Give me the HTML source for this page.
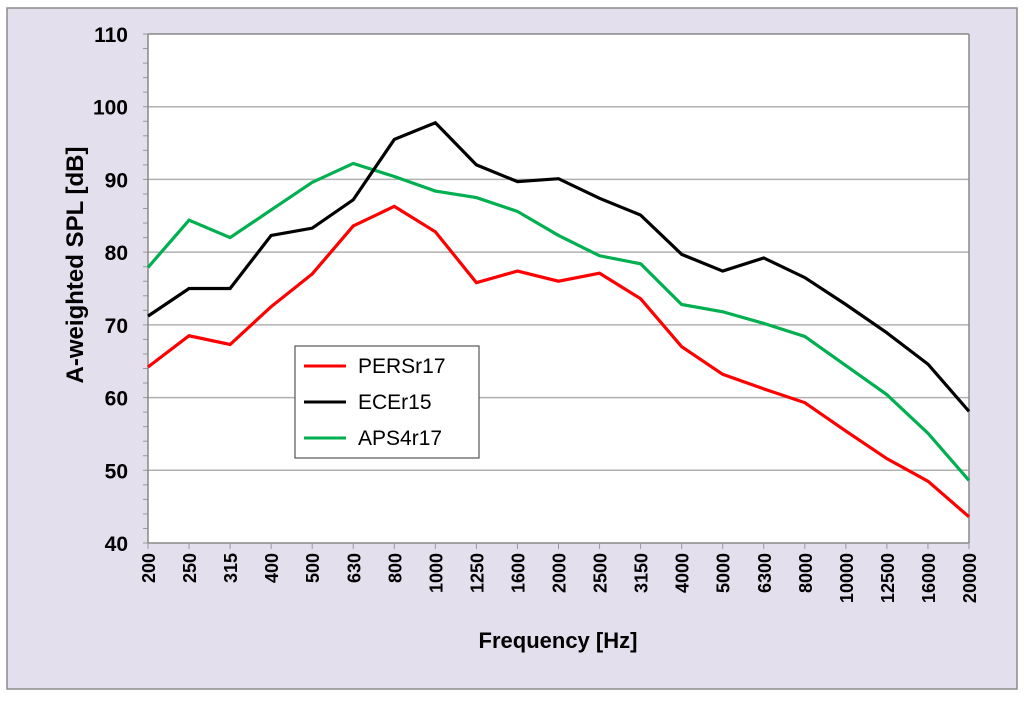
<!DOCTYPE html>
<html><head><meta charset="utf-8"><style>
body{margin:0;background:#fff;font-family:"Liberation Sans",sans-serif;}
</style></head><body>
<svg id="chart" width="1024" height="697" xmlns="http://www.w3.org/2000/svg" font-family="Liberation Sans, sans-serif">
<rect x="7" y="8" width="1010" height="681" fill="#e4dfec" stroke="#8c8c8c" stroke-width="1.5"/>
<rect x="148" y="34" width="821" height="509" fill="#fff"/>
<g id="grid"></g><g id="axes"></g><g id="series"></g>
<text transform="translate(83,265) rotate(-90)" text-anchor="middle" font-size="24" font-weight="bold">A-weighted SPL [dB]</text>
<text x="558" y="648" text-anchor="middle" font-size="22" font-weight="bold">Frequency [Hz]</text>
<g>
<rect x="295" y="346" width="184" height="112" fill="#fff" stroke="#555" stroke-width="1.2"/>
<line x1="304" y1="366" x2="346" y2="366" stroke="#ff0000" stroke-width="3"/>
<text x="358" y="373" font-size="21">PERSr17</text>
<line x1="304" y1="402" x2="346" y2="402" stroke="#000" stroke-width="3"/>
<text x="358" y="409" font-size="21">ECEr15</text>
<line x1="304" y1="438" x2="346" y2="438" stroke="#00b050" stroke-width="3"/>
<text x="358" y="445" font-size="21">APS4r17</text>
</g>
</svg>
<script>
const categories=["200","250","315","400","500","630","800","1000","1250","1600","2000","2500","3150","4000","5000","6300","8000","10000","12500","16000","20000"];
const persValues=[64.2,68.5,67.3,72.5,77,83.6,86.3,82.8,75.8,77.4,76,77.1,73.6,67,63.2,61.2,59.3,55.4,51.6,48.5,43.6];
const eceValues=[71.2,75,75,82.3,83.3,87.2,95.5,97.8,92,89.7,90.1,87.4,85.1,79.7,77.4,79.2,76.5,72.8,68.9,64.6,58.1];
const apsValues=[77.9,84.4,82,85.8,89.6,92.2,90.4,88.4,87.5,85.6,82.3,79.5,78.4,72.8,71.8,70.2,68.4,64.4,60.4,55.1,48.6];
const yTicks=[40,50,60,70,80,90,100,110];
const NS="http://www.w3.org/2000/svg";
const X0=148,X1=969,Y0=543,Y1=34,YMIN=40,YMAX=110;
function xs(i){return X0+i*(X1-X0)/(categories.length-1);}
function ys(v){return Y0-(v-YMIN)/(YMAX-YMIN)*(Y0-Y1);}
function mk(tag,attrs,parent){const e=document.createElementNS(NS,tag);for(const k in attrs)e.setAttribute(k,attrs[k]);parent.appendChild(e);return e;}
const grid=document.getElementById('grid'),axes=document.getElementById('axes'),series=document.getElementById('series');
yTicks.forEach(v=>{
 if(v>YMIN&&v<YMAX){const l=mk('line',{x1:X0,x2:X1,y1:ys(v),y2:ys(v),stroke:'#b0b0b0','stroke-width':1.5},grid);
 
 }
 const t=mk('text',{x:128,y:ys(v)+8,'text-anchor':'end','font-size':21,'font-weight':'bold'},axes);t.textContent=v;
 
 
});
for(let v=YMIN;v<=YMAX;v+=2){mk('line',{x1:X0-5,x2:X0,y1:ys(v),y2:ys(v),stroke:'#999','stroke-width':1},axes);}
mk('line',{x1:X0,x2:X0,y1:Y1,y2:Y0,stroke:'#888','stroke-width':1.5},axes);
mk('line',{x1:X0,x2:X1,y1:Y0,y2:Y0,stroke:'#888','stroke-width':1.5},axes);
mk('line',{x1:X1,x2:X1,y1:Y1,y2:Y0,stroke:'#888','stroke-width':1.5},axes);
mk('line',{x1:X0,x2:X1,y1:Y1,y2:Y1,stroke:'#888','stroke-width':1.5},axes);
categories.forEach((c,i)=>{
 mk('line',{x1:xs(i),x2:xs(i),y1:Y0,y2:Y0+6,stroke:'#999','stroke-width':1},axes);
 const t=mk('text',{transform:`translate(${xs(i)+7},${Y0+10}) rotate(-90)`,'text-anchor':'end','font-size':18,'font-weight':'bold'},axes);t.textContent=c;
 
 
});
function line(vals,color,name){
 const p=mk('polyline',{points:vals.map((v,i)=>xs(i)+','+ys(v)).join(' '),fill:'none',stroke:color,'stroke-width':3.2,'stroke-linejoin':'miter'},series);
 
 
}
line(apsValues,'#00b050','series-aps4r17');
line(eceValues,'#000000','series-ecer15');
line(persValues,'#ff0000','series-persr17');
</script>
</body></html>
